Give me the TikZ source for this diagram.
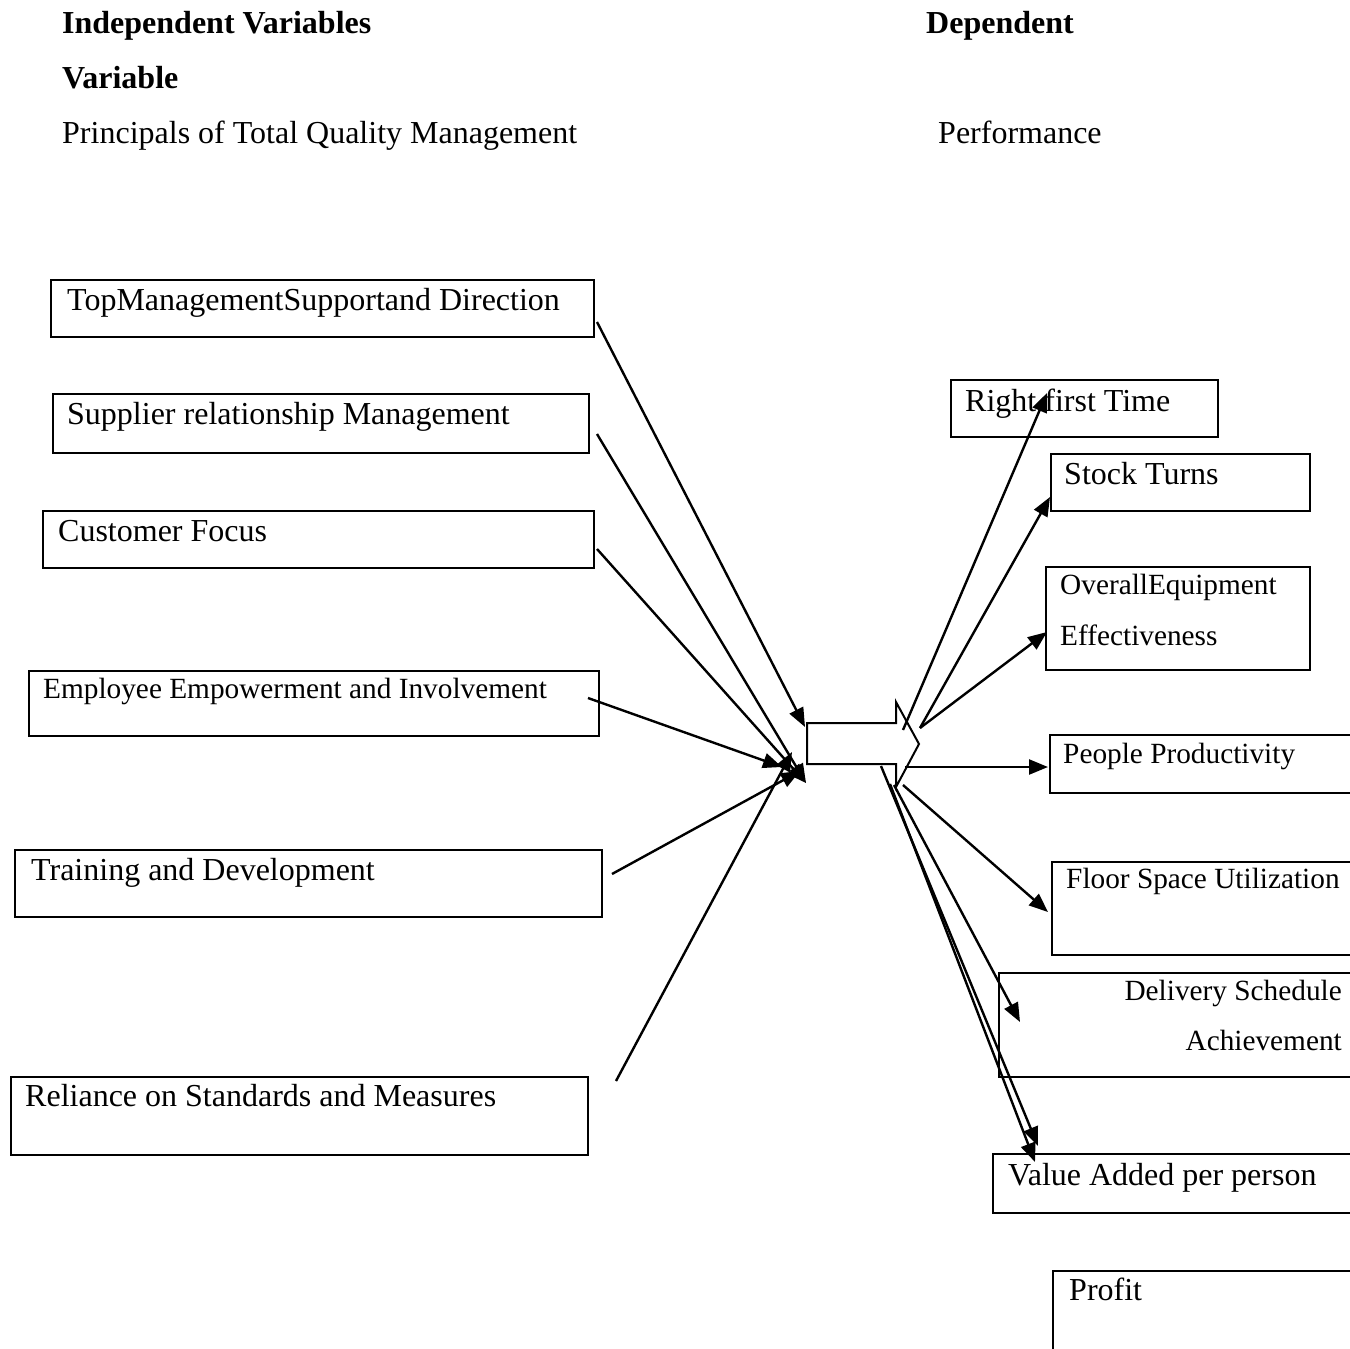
\documentclass[tikz,border=0pt]{standalone}
\usepackage{fontspec}
\setmainfont{Liberation Serif}
\usetikzlibrary{arrows.meta}
\begin{document}
\begin{tikzpicture}[x=1pt,y=-1pt,
  boxline/.style={draw,line width=2pt},
  big/.style={font=\fontsize{32}{38}\selectfont,anchor=base west,inner sep=0pt},
  sml/.style={font=\fontsize{29.3}{35}\selectfont,anchor=base west,inner sep=0pt},
  hd/.style={font=\bfseries\fontsize{32}{38}\selectfont,anchor=base west,inner sep=0pt},
  conn/.style={line width=2.4pt,-{Triangle[length=19pt,width=15pt]}}]
\useasboundingbox (0,0) rectangle (1350,1349);
\clip (0,0) rectangle (1350,1349);
% headers
\node[hd] (h1) at (62,33) {Independent Variables};
\node[hd] (h2) at (926,33) {Dependent};
\node[hd] (h3) at (62,88) {Variable};
\node[big] (h4) at (62,143) {Principals of Total Quality Management};
\node[big] (h5) at (938,143) {Performance};
% left boxes
\draw[boxline] (51,280) rectangle (594,337);
\draw[boxline] (53,394) rectangle (589,453);
\draw[boxline] (43,511) rectangle (594,568);
\draw[boxline] (29,671) rectangle (599,736);
\draw[boxline] (15,850) rectangle (602,917);
\draw[boxline] (11,1077) rectangle (588,1155);
\node[big] (l1) at (67,310) {TopManagementSupportand Direction};
\node[big] (l2) at (67,424) {Supplier relationship Management};
\node[big] (l3) at (58,541) {Customer Focus};
\node[sml] (l4) at (43,698) {Employee Empowerment and Involvement};
\node[big] (l5) at (31,880) {Training and Development};
\node[big] (l6) at (25,1106) {Reliance on Standards and Measures};
% right boxes
\draw[boxline] (951,380) rectangle (1218,437);
\draw[boxline] (1051,454) rectangle (1310,511);
\draw[boxline] (1046,567) rectangle (1310,670);
\draw[boxline] (1050,735) rectangle (1370,793);
\draw[boxline] (1052,862) rectangle (1370,955);
\draw[boxline] (999,973) rectangle (1370,1077);
\draw[boxline] (993,1154) rectangle (1370,1213);
\draw[boxline] (1053,1271) rectangle (1370,1370);
\node[big] (r1) at (965,411) {Right first Time};
\node[big] (r2) at (1064,484) {Stock Turns};
\node[sml] (r3a) at (1060,594) {OverallEquipment};
\node[sml] (r3b) at (1060,645) {Effectiveness};
\node[sml] (r4) at (1063,763) {People Productivity};
\node[sml] (r5) at (1066,888) {Floor Space Utilization};
\node[sml,anchor=base east] (r6a) at (1342,1000) {Delivery Schedule};
\node[sml,anchor=base east] (r6b) at (1342,1050) {Achievement};
\node[big] (r7) at (1008,1185) {Value Added per person};
\node[big] (r8) at (1069,1300) {Profit};
% central block arrow
\draw[line width=2pt,line join=miter] (807,723) -- (896,723) -- (896,702) -- (919,744) -- (896,787) -- (896,764) -- (807,764) -- cycle;
% named connector ends
\coordinate (s1) at (597,322);
\coordinate (s2) at (597,434);
\coordinate (s3) at (597,549);
\coordinate (s4) at (588,698);
\coordinate (s5) at (612,874);
\coordinate (s6) at (616,1081);
\coordinate (t1) at (805,727);
\coordinate (t2) at (806,783);
\coordinate (t4) at (782,767);
\coordinate (t5) at (800,771);
\coordinate (t6) at (792,752);
\coordinate (o1) at (903,730);
\coordinate (o2) at (920,728);
\coordinate (o4) at (905,767);
\coordinate (o5) at (903,785);
\coordinate (o6) at (894,785);
\coordinate (o7) at (881,766);
\coordinate (o8) at (890,784);
\coordinate (e1) at (1047,393);
\coordinate (e2) at (1050,497);
\coordinate (e3) at (1047,632);
\coordinate (e4) at (1048,767);
\coordinate (e5) at (1048,912);
\coordinate (e6) at (1020,1022);
\coordinate (e7) at (1038,1146);
\coordinate (e8) at (1035,1162);
% incoming connectors
\draw[conn] (s1) -- (t1);
\draw[conn] (s2) -- (t2);
\draw[conn] (s3) -- (t2);
\draw[conn] (s4) -- (t4);
\draw[conn] (s5) -- (t5);
\draw[conn] (s6) -- (t6);
% outgoing connectors
\draw[conn] (o1) -- (e1);
\draw[conn] (o2) -- (e2);
\draw[conn] (o2) -- (e3);
\draw[conn] (o4) -- (e4);
\draw[conn] (o5) -- (e5);
\draw[conn] (o6) -- (e6);
\draw[conn] (o7) -- (e7);
\draw[conn] (o8) -- (e8);
\end{tikzpicture}
\end{document}
